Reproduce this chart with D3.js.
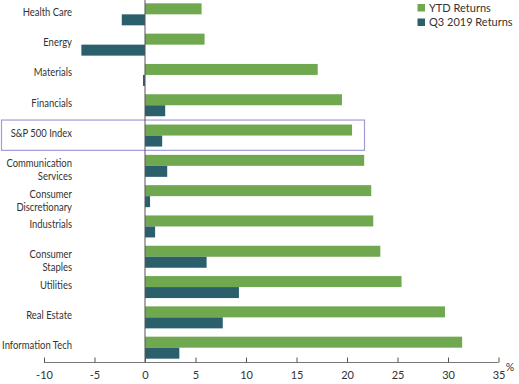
<!DOCTYPE html>
<html><head><meta charset="utf-8">
<script src="https://cdn.jsdelivr.net/npm/d3@7"></script>
<style>
body{margin:0;background:#fff;}
text{font-family:Lato,"Liberation Sans",sans-serif;fill:#333;}
</style></head>
<body><svg id="c" width="519" height="384"></svg>
<script>
const categories = [["Health Care"],["Energy"],["Materials"],["Financials"],["S&P 500 Index"],["Communication","Services"],["Consumer","Discretionary"],["Industrials"],["Consumer","Staples"],["Utilities"],["Real Estate"],["Information Tech"]];
const ytdReturns = [5.6, 5.9, 17.1, 19.5, 20.5, 21.7, 22.4, 22.6, 23.3, 25.4, 29.7, 31.4];
const q3Returns = [-2.3, -6.3, -0.2, 2.0, 1.7, 2.2, 0.5, 1.0, 6.1, 9.3, 7.7, 3.4];
const xTicks = [-10, -5, 0, 5, 10, 15, 20, 25, 30, 35];
const seriesNames = ["YTD Returns", "Q3 2019 Returns"];
const colors = ["#70a84f", "#2c5f6c"];

const svg = d3.select("#c");
const x = d3.scaleLinear().domain([-10, 35]).range([44, 498.5]);
const keys = categories.map((c,i)=>i);
const y = d3.scaleBand().domain(keys).range([0, 362]).paddingInner(0.274).paddingOuter(0.11);
const sub = d3.scaleBand().domain([0,1]).range([0, y.bandwidth()]);

// highlight box for S&P
const hi = 4;
svg.append("rect").attr("x", 1.5).attr("y", y(hi) - 4.5).attr("width", 363).attr("height", y.step()).attr("fill","none").attr("stroke","#a19bd8").attr("stroke-width",1.2);

const series = [ytdReturns, q3Returns];
series.forEach((vals, s) => {
  svg.append("g").selectAll("rect").data(vals).join("rect")
    .attr("x", d => x(Math.min(0,d)))
    .attr("width", d => Math.abs(x(d) - x(0)))
    .attr("y", (d,i) => y(i) + sub(s))
    .attr("height", sub.bandwidth())
    .attr("fill", colors[s]);
});

// zero line
svg.append("line").attr("x1", x(0)).attr("x2", x(0)).attr("y1", 0).attr("y2", 362.5).attr("stroke","#555").attr("stroke-width",1);

// x axis
const ax = svg.append("g").attr("transform","translate(0,362.5)")
  .call(d3.axisBottom(x).tickValues(xTicks).tickFormat(d => String(d)).tickSizeInner(-5).tickSizeOuter(0).tickPadding(9));
ax.select(".domain").attr("stroke","#777").attr("d", `M${x(-10)},0H${x(35)}`);
ax.selectAll(".tick line").attr("stroke","#555");
ax.selectAll(".tick text").attr("font-size",11).style("fill","#333").style("font-family","Lato, sans-serif");

svg.append("text").attr("x", 510).attr("y", 371).attr("text-anchor","middle").attr("font-size",10.5).text("%");

// category labels (horizontally condensed to match reference face)
const labelG = svg.append("g");
const labels = categories.map((lines, i) => {
  const n = lines.length;
  const cy = y(i) + y.bandwidth()/2 + (n === 1 ? -2.5 : 4);
  const t = labelG.append("text").attr("text-anchor","end").attr("font-size",11.5);
  lines.forEach((ln, j) => {
    t.append("tspan").attr("x", 0).attr("y", cy + (j - (n-1)/2) * 13 + 4).text(ln);
  });
  return t;
});
const maxW = d3.max(labels, t => t.node().getBBox().width);
const k = Math.min(1, 70 / maxW);
labels.forEach(t => t.attr("transform", `translate(72,0) scale(${k},1)`));

// legend
seriesNames.forEach((nm, s) => {
  svg.append("rect").attr("x", 417.5).attr("y", 4 + s*14.5).attr("width", 7.5).attr("height", 7.5).attr("fill", colors[s]);
  svg.append("text").attr("x", 429).attr("y", 11.5 + s*14.5).attr("font-size",11).text(nm);
});
</script></body></html>
